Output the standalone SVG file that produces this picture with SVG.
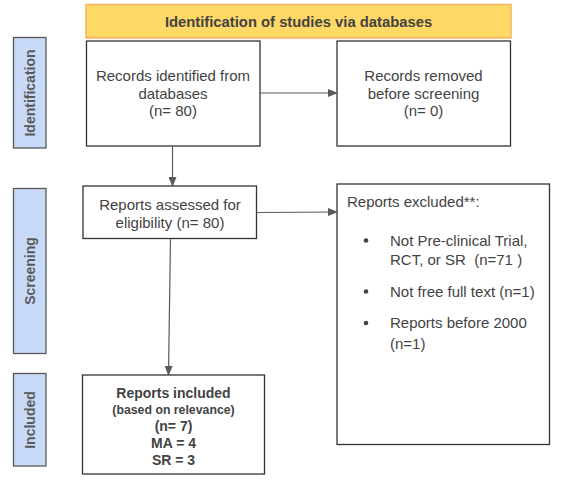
<svg xmlns="http://www.w3.org/2000/svg" width="562" height="482" viewBox="0 0 562 482">
<defs>
<style>
.box{fill:#fff;stroke:#333;stroke-width:1.3}
.side{fill:#c9daf8;stroke:#595959;stroke-width:1.3}
.t{font-family:"Liberation Sans",Arial,sans-serif;font-size:15px;fill:#434343;text-anchor:middle}
.b{font-weight:bold;font-size:14px}
.sl{font-family:"Liberation Sans",Arial,sans-serif;font-size:14px;font-weight:bold;fill:#595959;text-anchor:middle}
.l{text-anchor:start}
.c{stroke:#595959;stroke-width:1.2;fill:none;marker-end:url(#ah)}
</style>
<marker id="ah" markerWidth="10" markerHeight="8" refX="9" refY="4" orient="auto" markerUnits="userSpaceOnUse">
<path d="M0,0 L10,4 L0,8 z" fill="#595959"/>
</marker>
</defs>
<rect width="562" height="482" fill="#fff"/>
<g id="title">
<rect x="86" y="4.5" width="425" height="33.5" fill="#ffd966" stroke="#f6b26b" stroke-width="1.5"/>
<text class="t b" x="298.5" y="26.5" style="font-size:14.8px">Identification of studies via databases</text>
</g>
<g id="side-identification">
<rect class="side" x="13.5" y="37.5" width="32.5" height="110.5"/>
<text class="sl" transform="translate(35,93) rotate(-90)">Identification</text>
</g>
<g id="side-screening">
<rect class="side" x="13.5" y="188.5" width="32.5" height="165"/>
<text class="sl" transform="translate(35,271) rotate(-90)">Screening</text>
</g>
<g id="side-included">
<rect class="side" x="13.5" y="373.5" width="32.5" height="92.5"/>
<text class="sl" transform="translate(35,420) rotate(-90)">Included</text>
</g>
<g id="records-identified">
<rect class="box" x="86.5" y="41" width="173.5" height="105"/>
<text class="t" x="173" y="81">Records identified from</text>
<text class="t" x="173" y="98.5">databases</text>
<text class="t" x="173" y="116">(n= 80)</text>
</g>
<g id="records-removed">
<rect class="box" x="337" y="41" width="173.5" height="105"/>
<text class="t" x="423.5" y="81">Records removed</text>
<text class="t" x="423.5" y="98.5">before screening</text>
<text class="t" x="423.5" y="116">(n= 0)</text>
</g>
<g id="reports-assessed">
<rect class="box" x="83" y="186" width="173.5" height="52.5"/>
<text class="t" x="170" y="210">Reports assessed for</text>
<text class="t" x="170" y="227.5">eligibility (n= 80)</text>
</g>
<g id="reports-excluded">
<rect class="box" x="337" y="184" width="212.5" height="260.5"/>
<text class="t l" x="347" y="207">Reports excluded**:</text>
<circle cx="366" cy="240.5" r="2.3" fill="#434343"/>
<text class="t l" x="390" y="245.5">Not Pre-clinical Trial,</text>
<text class="t l" x="390" y="264.5" xml:space="preserve">RCT, or SR  (n=71 )</text>
<circle cx="366" cy="291.5" r="2.3" fill="#434343"/>
<text class="t l" x="390" y="296.5">Not free full text (n=1)</text>
<circle cx="366" cy="323" r="2.3" fill="#434343"/>
<text class="t l" x="390" y="328">Reports before 2000</text>
<text class="t l" x="390" y="348.5">(n=1)</text>
</g>
<g id="reports-included">
<rect class="box" x="82.5" y="375" width="182" height="99"/>
<text class="t b" x="173.5" y="397.5">Reports included</text>
<text class="t b" x="173.5" y="413.5" style="font-size:12.3px">(based on relevance)</text>
<text class="t b" x="173.5" y="431">(n= 7)</text>
<text class="t b" x="173.5" y="447.5">MA = 4</text>
<text class="t b" x="173.5" y="465">SR = 3</text>
</g>
<g id="connectors">
<path class="c" d="M260,93 L337,93"/>
<path class="c" d="M172.5,146 L172.5,186"/>
<path class="c" d="M256.5,212.5 L337,212"/>
<path class="c" d="M170.5,238.5 L168.5,375"/>
</g>
</svg>
